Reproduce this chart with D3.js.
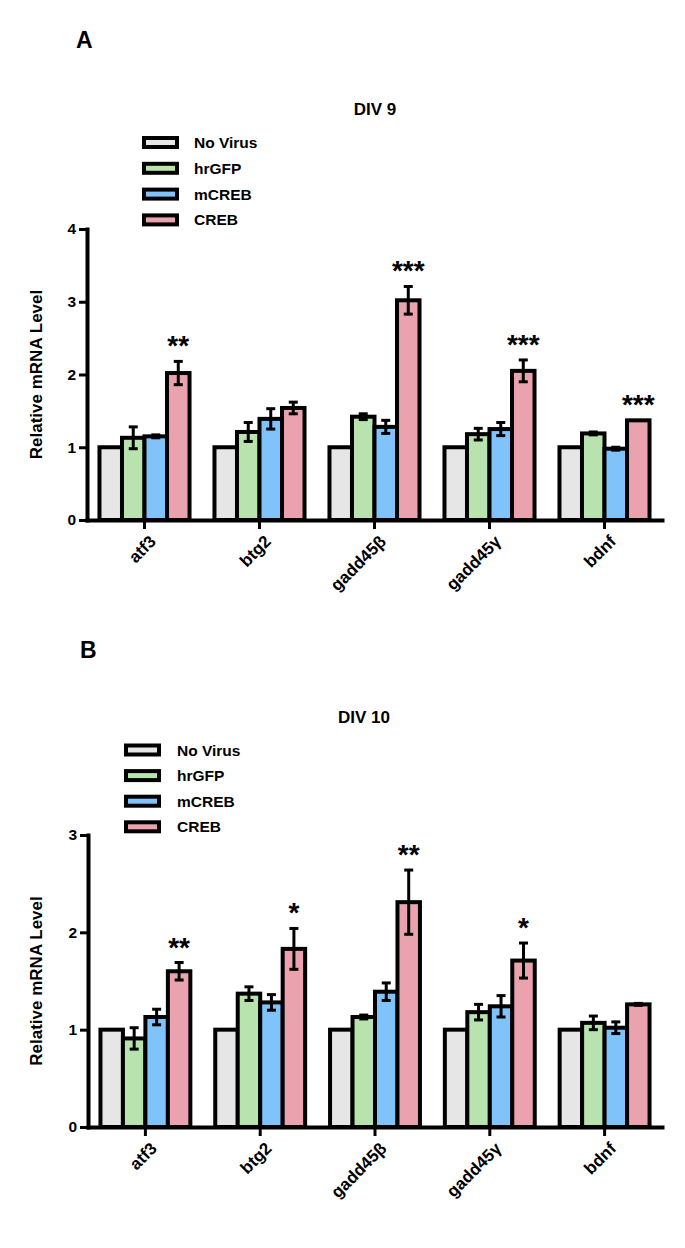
<!DOCTYPE html>
<html>
<head>
<meta charset="utf-8">
<script src="https://cdn.jsdelivr.net/npm/d3@7"></script>
<style>
  html, body { margin: 0; padding: 0; background: #fff; }
  svg text { font-family: "Liberation Sans", Arial, Helvetica, sans-serif; font-weight: bold; fill: #000; }
</style>
</head>
<body>
<svg id="chart" width="685" height="1248"></svg>
<script>
// ---------- DATA ----------
const genes = ["atf3", "btg2", "gadd45β", "gadd45γ", "bdnf"];
const seriesNames = ["No Virus", "hrGFP", "mCREB", "CREB"];
const seriesColors = ["#e6e6e6", "#b8e3ae", "#80c3fa", "#eaa3ae"];

// Panel A: DIV 9
const div9NoVirus = [1, 1, 1, 1, 1];
const div9NoVirusErr = [0, 0, 0, 0, 0];
const div9HrGFP = [1.13, 1.21, 1.42, 1.18, 1.19];
const div9HrGFPErr = [0.15, 0.13, 0.04, 0.08, 0.02];
const div9MCREB = [1.15, 1.39, 1.28, 1.25, 0.98];
const div9MCREBErr = [0.02, 0.14, 0.09, 0.09, 0.02];
const div9CREB = [2.02, 1.54, 3.02, 2.05, 1.37];
const div9CREBErr = [0.16, 0.08, 0.19, 0.15, 0];
const div9Stars = ["**", "", "***", "***", "***"];
const div9Ticks = [0, 1, 2, 3, 4];

// Panel B: DIV 10
const div10NoVirus = [1, 1, 1, 1, 1];
const div10NoVirusErr = [0, 0, 0, 0, 0];
const div10HrGFP = [0.91, 1.37, 1.13, 1.18, 1.07];
const div10HrGFPErr = [0.11, 0.07, 0.02, 0.08, 0.07];
const div10MCREB = [1.13, 1.28, 1.39, 1.24, 1.02];
const div10MCREBErr = [0.08, 0.08, 0.09, 0.11, 0.06];
const div10CREB = [1.60, 1.83, 2.31, 1.71, 1.26];
const div10CREBErr = [0.09, 0.21, 0.33, 0.18, 0.01];
const div10Stars = ["**", "*", "**", "*", ""];
const div10Ticks = [0, 1, 2, 3];

// ---------- DRAW ----------
const svg = d3.select("#chart");

function drawPanel(cfg) {
  const g = svg.append("g");
  const means = cfg.means, errs = cfg.errs;

  const x0 = d3.scaleBand().domain(genes).range([cfg.left, cfg.right])
    .paddingInner(0.217).paddingOuter(0.1085);
  const x1 = d3.scaleBand().domain(seriesNames).range([0, x0.bandwidth()]).padding(0);
  const y = d3.scaleLinear().domain([0, cfg.ymax]).range([cfg.bottom, cfg.top]);

  // panel letter
  g.append("text").attr("x", cfg.letterX).attr("y", cfg.letterY)
    .attr("font-size", 23).text(cfg.letter);
  // title
  g.append("text").attr("x", cfg.titleX).attr("y", cfg.titleY)
    .attr("text-anchor", "middle").attr("font-size", 17).text(cfg.title);

  // legend
  const lg = g.append("g");
  seriesNames.forEach((s, i) => {
    const cy = cfg.legendY + i * cfg.legendStep;
    lg.append("rect").attr("x", cfg.legendX).attr("y", cy - 4.5)
      .attr("width", 33).attr("height", 9)
      .attr("fill", seriesColors[i]).attr("stroke", "#000").attr("stroke-width", 4);
    lg.append("text").attr("x", cfg.legendTextX).attr("y", cy)
      .attr("dy", "0.36em").attr("font-size", 15.5).text(s);
  });

  // bars
  const groups = g.append("g").selectAll("g").data(genes).join("g")
    .attr("transform", d => `translate(${x0(d)},0)`);
  seriesNames.forEach((s, si) => {
    groups.append("rect")
      .attr("x", (d) => x1(s))
      .attr("y", (d, gi) => y(means[si][gi]))
      .attr("width", x1.bandwidth())
      .attr("height", (d, gi) => y(0) - y(means[si][gi]))
      .attr("fill", seriesColors[si]).attr("stroke", "#000").attr("stroke-width", 4);
  });
  // error bars
  seriesNames.forEach((s, si) => {
    groups.each(function(d, gi) {
      const e = errs[si][gi];
      if (!e) return;
      const cx = x1(s) + x1.bandwidth() / 2;
      const m = means[si][gi];
      const sel = d3.select(this);
      sel.append("line").attr("x1", cx).attr("x2", cx)
        .attr("y1", y(m - e)).attr("y2", y(m + e))
        .attr("stroke", "#000").attr("stroke-width", 3);
      [m - e, m + e].forEach(v => {
        sel.append("line").attr("x1", cx - 4.5).attr("x2", cx + 4.5)
          .attr("y1", y(v)).attr("y2", y(v))
          .attr("stroke", "#000").attr("stroke-width", 3);
      });
    });
  });
  // stars
  groups.append("text")
    .attr("x", x1("CREB") + x1.bandwidth() / 2)
    .attr("y", (d, gi) => y(means[3][gi] + errs[3][gi]) - 6)
    .attr("text-anchor", "middle").attr("font-size", 28)
    .text((d, gi) => cfg.stars[gi]);

  // y axis
  const ya = g.append("g").attr("transform", `translate(${cfg.left},0)`)
    .call(d3.axisLeft(y).tickValues(cfg.ticks).tickFormat(d3.format("d"))
      .tickSize(8).tickSizeOuter(0).tickPadding(3));
  ya.select(".domain").attr("stroke-width", 4).attr("stroke-linecap", "square");
  ya.selectAll(".tick line").attr("stroke-width", 3);
  ya.selectAll(".tick text").attr("font-size", 15.5).attr("font-family", null);

  // x axis
  const xa = g.append("g").attr("transform", `translate(0,${cfg.bottom})`)
    .call(d3.axisBottom(x0).tickSize(9).tickSizeOuter(0).tickFormat(""));
  xa.select(".domain").attr("stroke-width", 4).attr("stroke-linecap", "square");
  xa.selectAll(".tick line").attr("stroke-width", 3);
  // rotated labels
  g.append("g").selectAll("text").data(genes).join("text")
    .attr("transform", d => `translate(${x0(d) + x0.bandwidth() / 2 + 4},${cfg.bottom + 14}) rotate(-45)`)
    .attr("text-anchor", "end").attr("dy", "0.71em").attr("font-size", 17)
    .text(d => d);

  // y label
  g.append("text")
    .attr("transform", `translate(${cfg.ylabelX},${(cfg.top + cfg.bottom) / 2}) rotate(-90)`)
    .attr("text-anchor", "middle").attr("font-size", 17).text("Relative mRNA Level");
}

drawPanel({
  letter: "A", letterX: 76, letterY: 48,
  title: "DIV 9", titleX: 375, titleY: 115,
  legendX: 144, legendTextX: 194, legendY: 142.5, legendStep: 25.8,
  left: 87, right: 662, top: 229, bottom: 520, ymax: 4, ticks: div9Ticks,
  ylabelX: 42,
  means: [div9NoVirus, div9HrGFP, div9MCREB, div9CREB],
  errs: [div9NoVirusErr, div9HrGFPErr, div9MCREBErr, div9CREBErr],
  stars: div9Stars
});

drawPanel({
  letter: "B", letterX: 80, letterY: 658,
  title: "DIV 10", titleX: 364, titleY: 723,
  legendX: 126, legendTextX: 177, legendY: 750, legendStep: 25.6,
  left: 88, right: 662, top: 835, bottom: 1127, ymax: 3, ticks: div10Ticks,
  ylabelX: 42,
  means: [div10NoVirus, div10HrGFP, div10MCREB, div10CREB],
  errs: [div10NoVirusErr, div10HrGFPErr, div10MCREBErr, div10CREBErr],
  stars: div10Stars
});
</script>
</body>
</html>
